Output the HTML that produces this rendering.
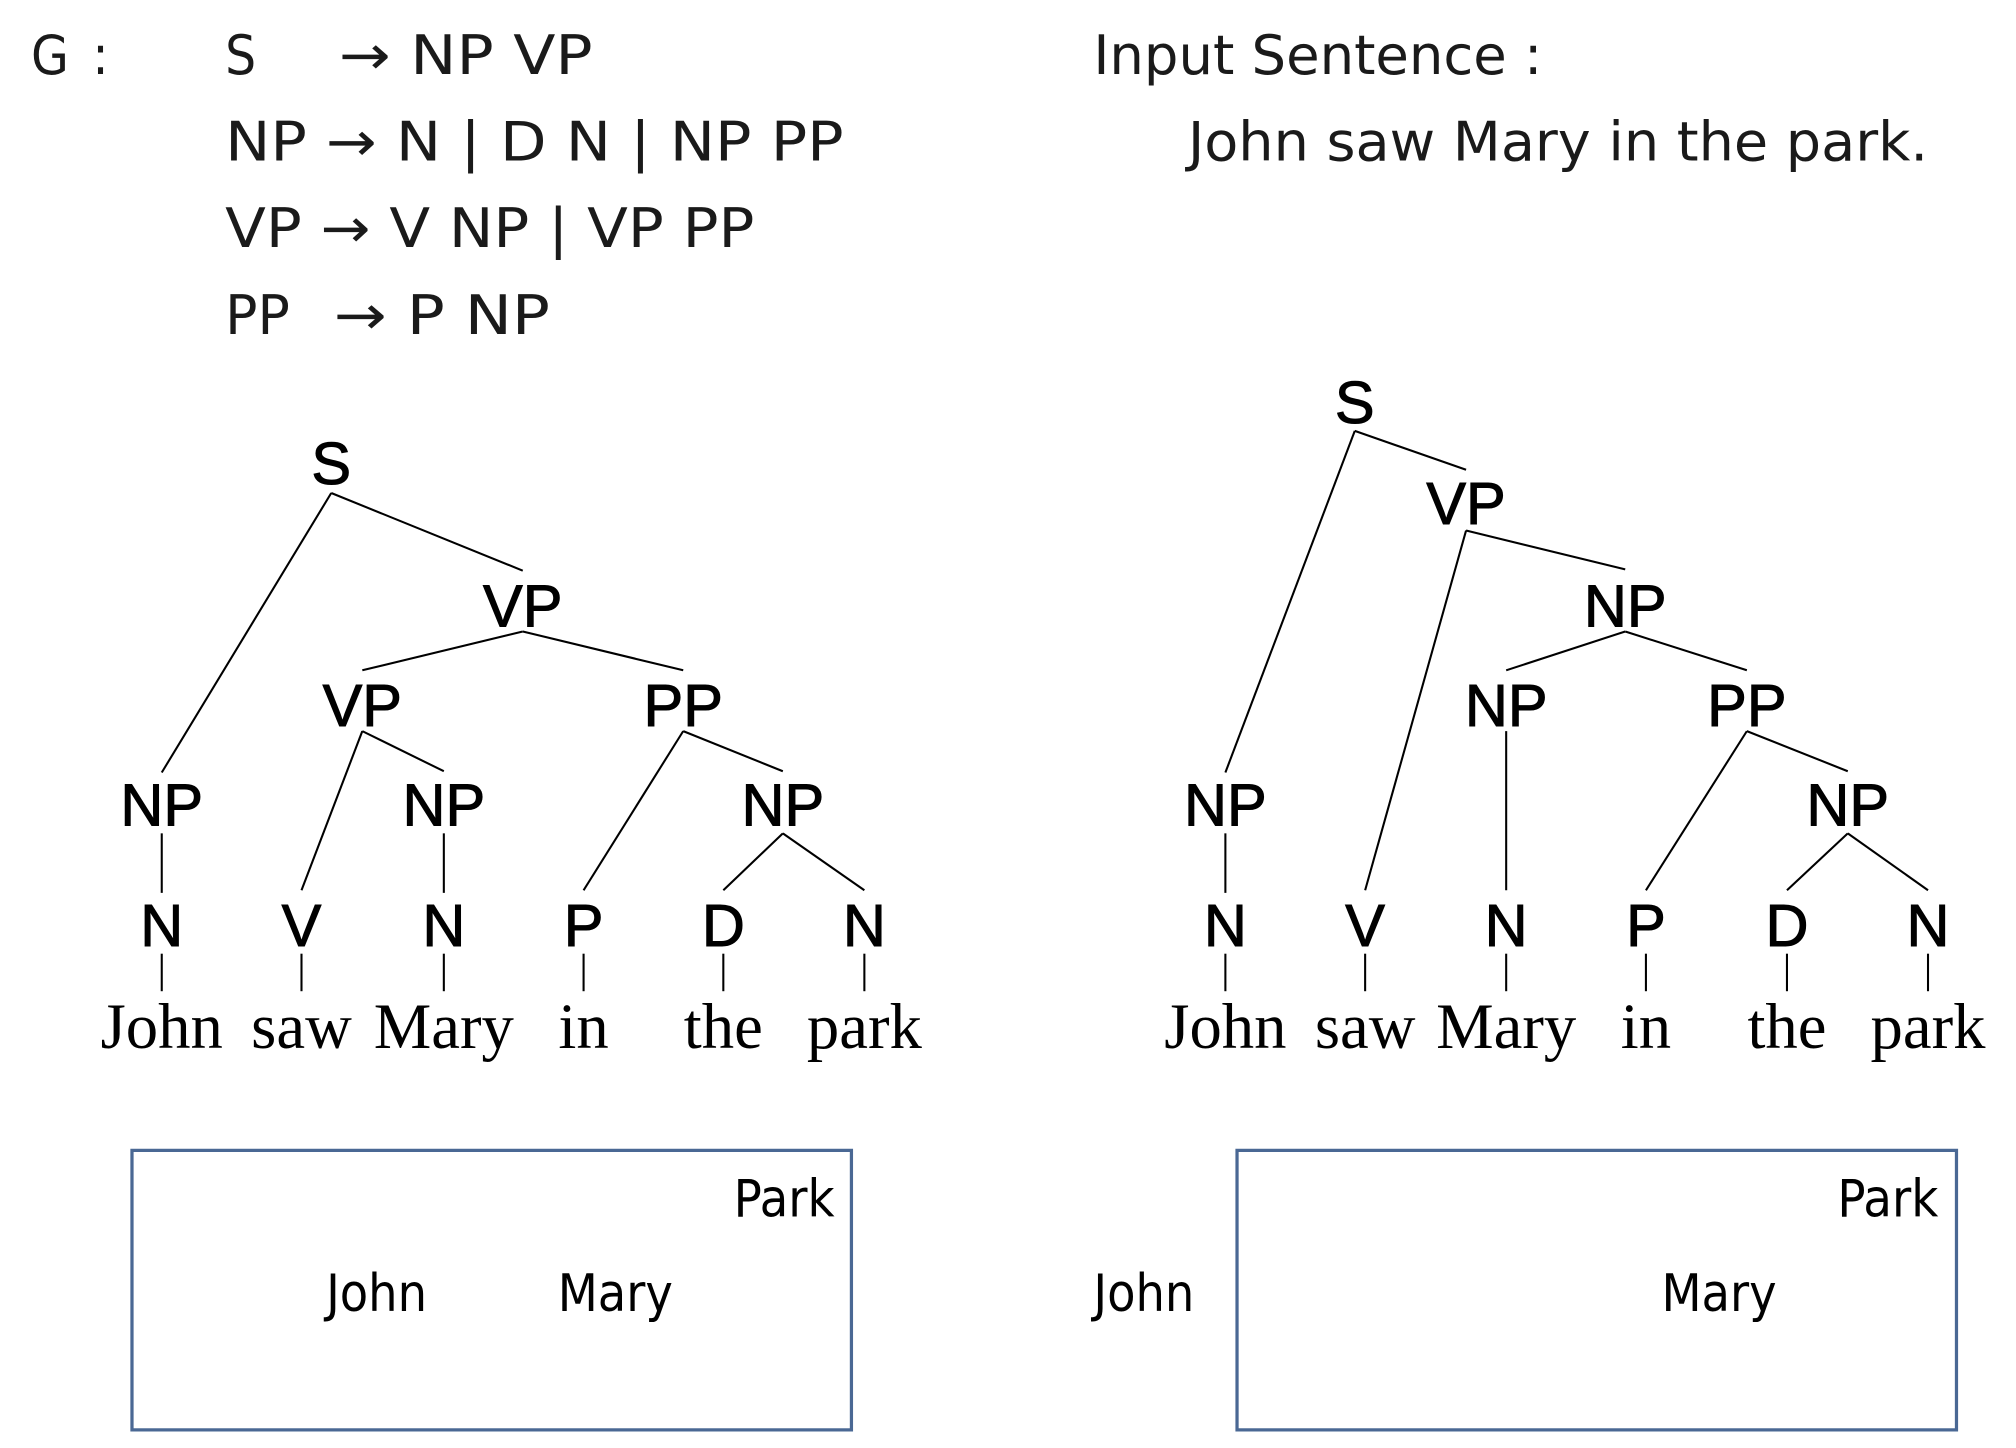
<!DOCTYPE html>
<html><head><meta charset="utf-8"><style>
html,body{margin:0;padding:0;background:#fff;}
svg{display:block}
.g{font-family:"DejaVu Sans Condensed","Liberation Sans",sans-serif;font-size:42px;fill:#1a1a1a}
.t{font-family:"Liberation Sans Narrow","Liberation Sans",sans-serif;font-size:46px;fill:#000;text-anchor:middle;stroke:#000;stroke-width:0.8}
.w{font-family:"Liberation Serif",serif;font-size:50px;fill:#000;text-anchor:middle}
.b{font-family:"DejaVu Sans Condensed","Liberation Sans",sans-serif;font-size:40px;fill:#000}
line{stroke:#000;stroke-width:1.6}
</style></head><body>
<svg width="2016" height="1448" viewBox="0 0 1558 1119" preserveAspectRatio="none" xmlns="http://www.w3.org/2000/svg">
<text class="g" x="24" y="57" textLength="60" lengthAdjust="spacing">G :</text>
<text class="g" x="174" y="57">S</text><text class="g" x="262" y="57" textLength="196" lengthAdjust="spacingAndGlyphs">→ NP VP</text>
<text class="g" x="174" y="124" textLength="478" lengthAdjust="spacingAndGlyphs">NP → N | D N | NP PP</text>
<text class="g" x="174" y="191" textLength="409" lengthAdjust="spacingAndGlyphs">VP → V NP | VP PP</text>
<text class="g" x="174" y="258" textLength="50" lengthAdjust="spacingAndGlyphs">PP</text><text class="g" x="258" y="258" textLength="167" lengthAdjust="spacingAndGlyphs">→ P NP</text>
<text class="g" x="845" y="57" textLength="347" lengthAdjust="spacingAndGlyphs">Input Sentence :</text>
<text class="g" x="918" y="124" textLength="572" lengthAdjust="spacingAndGlyphs">John saw Mary in the park.</text>

<g>
<text class="t" x="256" y="374">S</text>
<line x1="256" y1="381" x2="125" y2="597"/><line x1="256" y1="381" x2="404" y2="441"/>
<text class="t" x="404" y="484">VP</text>
<line x1="404" y1="488" x2="280" y2="518"/><line x1="404" y1="488" x2="528" y2="518"/>
<text class="t" x="280" y="561">VP</text><text class="t" x="528" y="561">PP</text>
<line x1="280" y1="565" x2="233" y2="688"/><line x1="280" y1="565" x2="343" y2="596"/>
<line x1="528" y1="565" x2="451" y2="688"/><line x1="528" y1="565" x2="605" y2="596"/>
<text class="t" x="125" y="638">NP</text><text class="t" x="343" y="638">NP</text><text class="t" x="605" y="638">NP</text>
<line x1="125" y1="644" x2="125" y2="690"/><line x1="343" y1="644" x2="343" y2="690"/>
<line x1="605" y1="644" x2="559" y2="688"/><line x1="605" y1="644" x2="668" y2="688"/>
<text class="t" x="125" y="731">N</text><text class="t" x="233" y="731">V</text><text class="t" x="343" y="731">N</text><text class="t" x="451" y="731">P</text><text class="t" x="559" y="731">D</text><text class="t" x="668" y="731">N</text>
<line x1="125" y1="737" x2="125" y2="766"/><line x1="233" y1="737" x2="233" y2="766"/><line x1="343" y1="737" x2="343" y2="766"/><line x1="451" y1="737" x2="451" y2="766"/><line x1="559" y1="737" x2="559" y2="766"/><line x1="668" y1="737" x2="668" y2="766"/>
<text class="w" x="125" y="810">John</text><text class="w" x="233" y="810">saw</text><text class="w" x="343" y="810">Mary</text><text class="w" x="451" y="810">in</text><text class="w" x="559" y="810">the</text><text class="w" x="668" y="810">park</text>
</g>

<g>
<text class="t" x="1047" y="327">S</text>
<line x1="1047" y1="333" x2="947" y2="597"/><line x1="1047" y1="333" x2="1133" y2="363"/>
<text class="t" x="1133" y="405">VP</text>
<line x1="1133" y1="410" x2="1055" y2="688"/><line x1="1133" y1="410" x2="1256" y2="440"/>
<text class="t" x="1256" y="484">NP</text>
<line x1="1256" y1="488" x2="1164" y2="518"/><line x1="1256" y1="488" x2="1350" y2="518"/>
<text class="t" x="1164" y="561">NP</text><text class="t" x="1350" y="561">PP</text>
<line x1="1164" y1="565" x2="1164" y2="688"/>
<line x1="1350" y1="565" x2="1272" y2="688"/><line x1="1350" y1="565" x2="1428" y2="596"/>
<text class="t" x="947" y="638">NP</text><text class="t" x="1428" y="638">NP</text>
<line x1="947" y1="644" x2="947" y2="690"/>
<line x1="1428" y1="644" x2="1381" y2="688"/><line x1="1428" y1="644" x2="1490" y2="688"/>
<text class="t" x="947" y="731">N</text><text class="t" x="1055" y="731">V</text><text class="t" x="1164" y="731">N</text><text class="t" x="1272" y="731">P</text><text class="t" x="1381" y="731">D</text><text class="t" x="1490" y="731">N</text>
<line x1="947" y1="737" x2="947" y2="766"/><line x1="1055" y1="737" x2="1055" y2="766"/><line x1="1164" y1="737" x2="1164" y2="766"/><line x1="1272" y1="737" x2="1272" y2="766"/><line x1="1381" y1="737" x2="1381" y2="766"/><line x1="1490" y1="737" x2="1490" y2="766"/>
<text class="w" x="947" y="810">John</text><text class="w" x="1055" y="810">saw</text><text class="w" x="1164" y="810">Mary</text><text class="w" x="1272" y="810">in</text><text class="w" x="1381" y="810">the</text><text class="w" x="1490" y="810">park</text>
</g>

<rect x="102" y="889" width="556" height="216" fill="none" stroke="#4a6894" stroke-width="2.5"/>
<rect x="956" y="889" width="556" height="216" fill="none" stroke="#4a6894" stroke-width="2.5"/>
<text class="b" x="567" y="940" textLength="78" lengthAdjust="spacingAndGlyphs">Park</text>
<text class="b" x="252" y="1013" textLength="78" lengthAdjust="spacingAndGlyphs">John</text>
<text class="b" x="431" y="1013" textLength="89" lengthAdjust="spacingAndGlyphs">Mary</text>
<text class="b" x="1420" y="940" textLength="78" lengthAdjust="spacingAndGlyphs">Park</text>
<text class="b" x="845" y="1013" textLength="78" lengthAdjust="spacingAndGlyphs">John</text>
<text class="b" x="1284" y="1013" textLength="89" lengthAdjust="spacingAndGlyphs">Mary</text>
</svg>
</body></html>
